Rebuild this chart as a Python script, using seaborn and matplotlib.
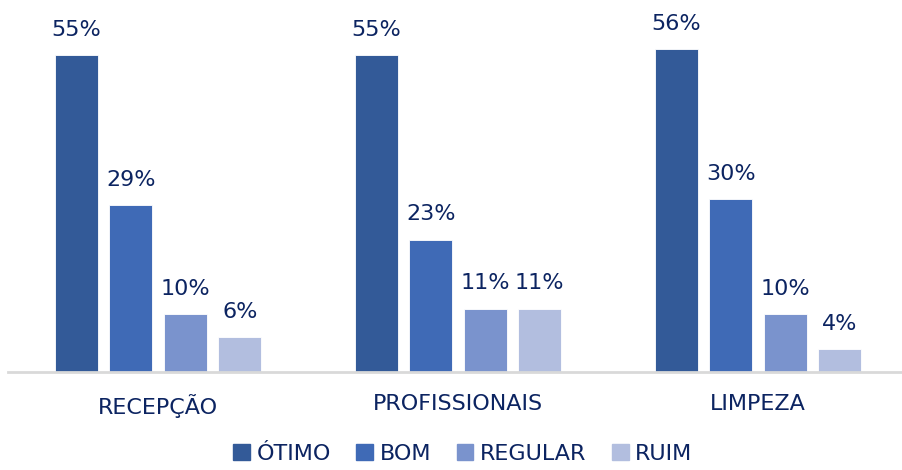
import pandas as pd
import seaborn as sns
import matplotlib.pyplot as plt

# Data
categorias = ["RECEPÇÃO", "PROFISSIONAIS", "LIMPEZA"]
niveis = ["ÓTIMO", "BOM", "REGULAR", "RUIM"]
otimo = [55, 55, 56]
bom = [29, 23, 30]
regular = [10, 11, 10]
ruim = [6, 11, 4]

cores = ["#335A98", "#3F6AB6", "#7A93CD", "#B2BEDF"]
azul_texto = "#0C2461"

df = pd.DataFrame({
    "categoria": categorias * 4,
    "nivel": [n for n in niveis for _ in categorias],
    "valor": otimo + bom + regular + ruim,
})

sns.set_theme(style="white")
plt.rcParams["font.family"] = ["DejaVu Sans"]

fig = plt.figure(figsize=(9.02, 4.70), dpi=100)
ax = fig.add_axes([8 / 902, 98 / 470, 900 / 902, 345.6 / 470])

sns.barplot(data=df, x="categoria", y="valor", hue="nivel", order=categorias,
            hue_order=niveis, palette=cores, saturation=1, width=0.727, gap=0.21,
            edgecolor="white", linewidth=0.6, legend=False, ax=ax)

for cont in ax.containers:
    ax.bar_label(cont, labels=[f"{v:.0f}%" for v in cont.datavalues],
                 padding=11, fontsize=16, color=azul_texto, clip_on=False)

ax.set_ylim(0, 60)
ax.set_xlim(-0.5, 2.5)
ax.set_xlabel("")
ax.set_ylabel("")
ax.set_yticks([])
ax.tick_params(axis="x", length=0, pad=16, labelsize=16, labelcolor=azul_texto)
for lado in ["top", "right", "left"]:
    ax.spines[lado].set_visible(False)
ax.spines["bottom"].set_color("#D9D9D9")
ax.spines["bottom"].set_linewidth(2)

handles = [plt.Rectangle((0, 0), 1, 1, color=c) for c in cores]
leg = fig.legend(handles, niveis, loc="lower center", bbox_to_anchor=(0.513, -0.03),
                 ncol=4, frameon=False, fontsize=16, handlelength=0.75,
                 handleheight=0.75, handletextpad=0.3, columnspacing=1.15)
for t in leg.get_texts():
    t.set_color(azul_texto)

fig.savefig("out.png", dpi=100)
